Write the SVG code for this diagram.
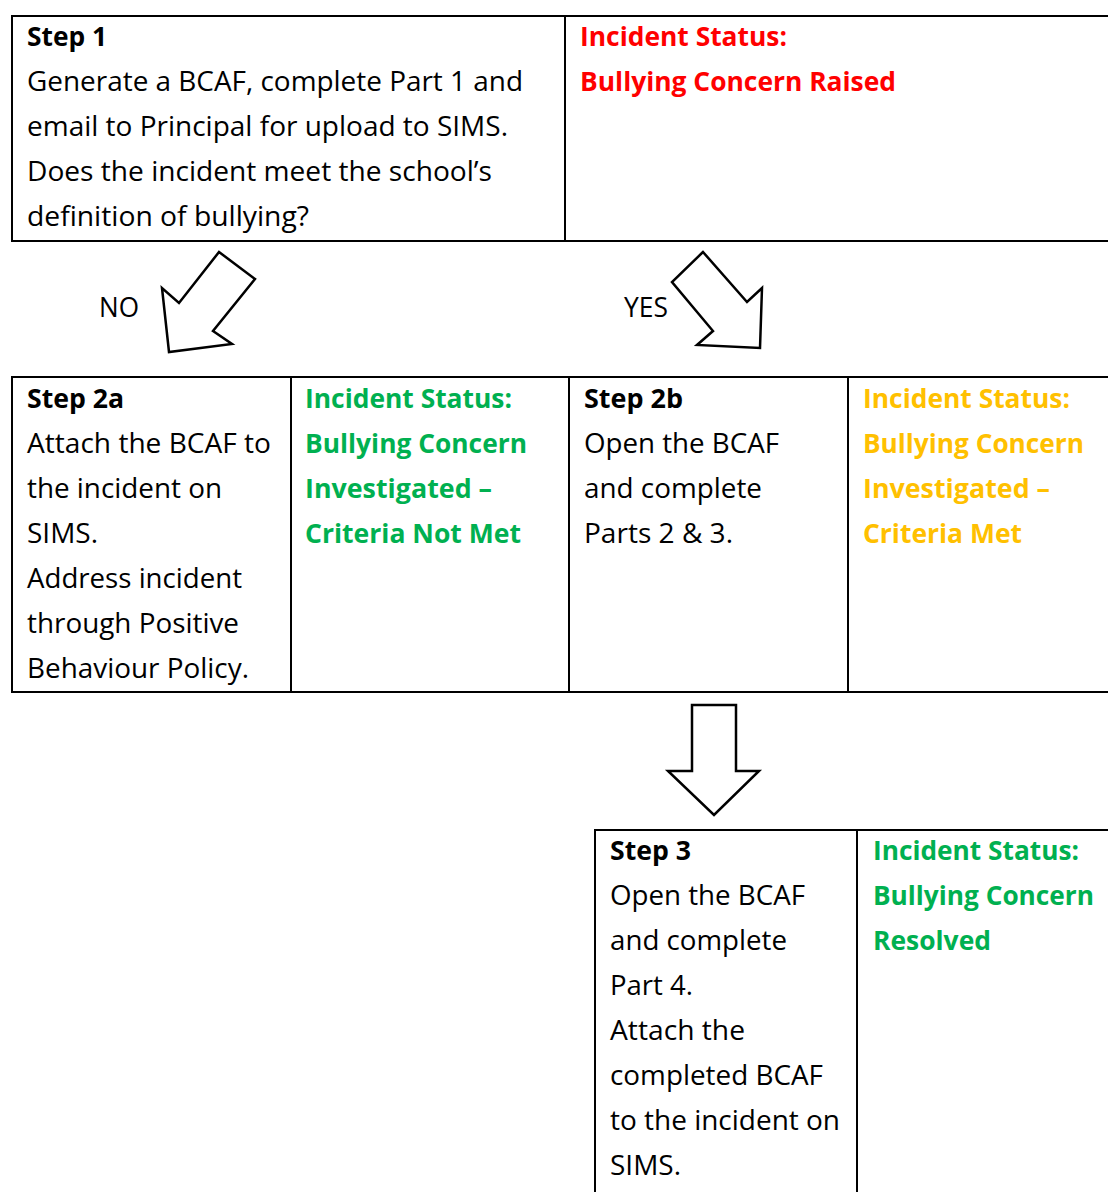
<svg xmlns="http://www.w3.org/2000/svg" width="1108" height="1192" viewBox="0 0 1108 1192">
<style>
.t{font-family:"Open Sans","Noto Sans","Liberation Sans",sans-serif;font-size:27px;fill:#000}
.b{font-weight:bold}
.red{fill:#FF0000}
.grn{fill:#00B050}
.org{fill:#FFC000}
.ln{stroke:#000;stroke-width:2;fill:none}
.arr{stroke:#000;stroke-width:2.5;fill:#fff;stroke-linejoin:miter}
</style>
<rect width="1108" height="1192" fill="#fff"/>
<g id="step1">
<path class="ln" d="M1108,16 H12 V241 H1108 M565,16 V241"/>
<text class="t b" x="27" y="46" textLength="80" lengthAdjust="spacingAndGlyphs">Step 1</text>
<text class="t" x="27" y="91" textLength="496" lengthAdjust="spacingAndGlyphs">Generate a BCAF, complete Part 1 and</text>
<text class="t" x="27" y="136" textLength="481" lengthAdjust="spacingAndGlyphs">email to Principal for upload to SIMS.</text>
<text class="t" x="27" y="181" textLength="465" lengthAdjust="spacingAndGlyphs">Does the incident meet the school’s</text>
<text class="t" x="27" y="226" textLength="282" lengthAdjust="spacingAndGlyphs">definition of bullying?</text>
<text class="t b red" x="580" y="46" textLength="207" lengthAdjust="spacingAndGlyphs">Incident Status:</text>
<text class="t b red" x="580" y="91" textLength="316" lengthAdjust="spacingAndGlyphs">Bullying Concern Raised</text>
</g>
<g id="step2">
<path class="ln" d="M1108,377 H12 V692 H1108 M291,377 V692 M569,377 V692 M848,377 V692"/>
<g id="step2a">
<text class="t b" x="27" y="408" textLength="97" lengthAdjust="spacingAndGlyphs">Step 2a</text>
<text class="t" x="27" y="453" textLength="244" lengthAdjust="spacingAndGlyphs">Attach the BCAF to</text>
<text class="t" x="27" y="498" textLength="195" lengthAdjust="spacingAndGlyphs">the incident on</text>
<text class="t" x="27" y="543" textLength="71" lengthAdjust="spacingAndGlyphs">SIMS.</text>
<text class="t" x="27" y="588" textLength="215" lengthAdjust="spacingAndGlyphs">Address incident</text>
<text class="t" x="27" y="633" textLength="212" lengthAdjust="spacingAndGlyphs">through Positive</text>
<text class="t" x="27" y="678" textLength="222" lengthAdjust="spacingAndGlyphs">Behaviour Policy.</text>
<text class="t b grn" x="305" y="408" textLength="207" lengthAdjust="spacingAndGlyphs">Incident Status:</text>
<text class="t b grn" x="305" y="453" textLength="222" lengthAdjust="spacingAndGlyphs">Bullying Concern</text>
<text class="t b grn" x="305" y="498" textLength="187" lengthAdjust="spacingAndGlyphs">Investigated –</text>
<text class="t b grn" x="305" y="543" textLength="216" lengthAdjust="spacingAndGlyphs">Criteria Not Met</text>
</g>
<g id="step2b">
<text class="t b" x="584" y="408" textLength="99" lengthAdjust="spacingAndGlyphs">Step 2b</text>
<text class="t" x="584" y="453" textLength="195" lengthAdjust="spacingAndGlyphs">Open the BCAF</text>
<text class="t" x="584" y="498" textLength="178" lengthAdjust="spacingAndGlyphs">and complete</text>
<text class="t" x="584" y="543" textLength="149" lengthAdjust="spacingAndGlyphs">Parts 2 &amp; 3.</text>
<text class="t b org" x="863" y="408" textLength="207" lengthAdjust="spacingAndGlyphs">Incident Status:</text>
<text class="t b org" x="863" y="453" textLength="221" lengthAdjust="spacingAndGlyphs">Bullying Concern</text>
<text class="t b org" x="863" y="498" textLength="187" lengthAdjust="spacingAndGlyphs">Investigated –</text>
<text class="t b org" x="863" y="543" textLength="159" lengthAdjust="spacingAndGlyphs">Criteria Met</text>
</g>
</g>
<g id="step3">
<path class="ln" d="M1108,830 H595 V1192 M857,830 V1192"/>
<text class="t b" x="610" y="860" textLength="81" lengthAdjust="spacingAndGlyphs">Step 3</text>
<text class="t" x="610" y="905" textLength="195" lengthAdjust="spacingAndGlyphs">Open the BCAF</text>
<text class="t" x="610" y="950" textLength="177" lengthAdjust="spacingAndGlyphs">and complete</text>
<text class="t" x="610" y="995" textLength="83" lengthAdjust="spacingAndGlyphs">Part 4.</text>
<text class="t" x="610" y="1040" textLength="135" lengthAdjust="spacingAndGlyphs">Attach the</text>
<text class="t" x="610" y="1085" textLength="213" lengthAdjust="spacingAndGlyphs">completed BCAF</text>
<text class="t" x="610" y="1130" textLength="230" lengthAdjust="spacingAndGlyphs">to the incident on</text>
<text class="t" x="610" y="1175" textLength="71" lengthAdjust="spacingAndGlyphs">SIMS.</text>
<text class="t b grn" x="873" y="860" textLength="206" lengthAdjust="spacingAndGlyphs">Incident Status:</text>
<text class="t b grn" x="873" y="905" textLength="221" lengthAdjust="spacingAndGlyphs">Bullying Concern</text>
<text class="t b grn" x="873" y="950" textLength="118" lengthAdjust="spacingAndGlyphs">Resolved</text>
</g>
<g id="connectors">
<polygon class="arr" points="219,252 255,279 213,331 232,344 169,352 162,288 179,303"/>
<text class="t" x="99" y="317" textLength="40" lengthAdjust="spacingAndGlyphs">NO</text>
<polygon class="arr" points="703,252 672,282 713,331 697,345 760,348 762,288 747,302"/>
<text class="t" x="624" y="317" textLength="44" lengthAdjust="spacingAndGlyphs">YES</text>
<polygon class="arr" points="692,705 736,705 736,771 759,771 714,815 668,771 692,771"/>
</g>
</svg>
